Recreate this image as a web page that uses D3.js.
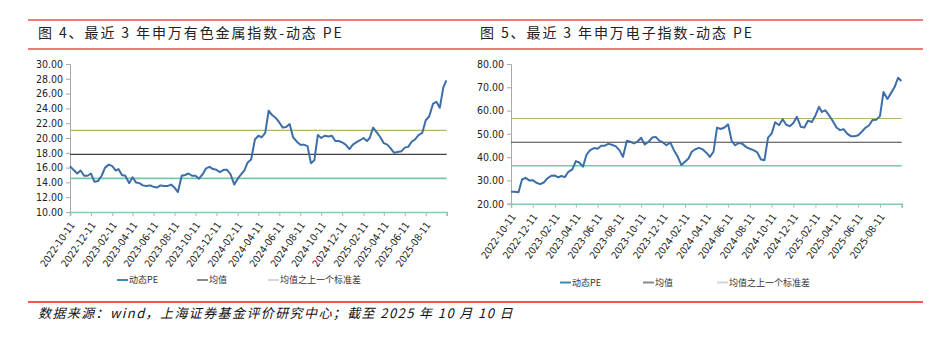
<!DOCTYPE html>
<html>
<head>
<meta charset="utf-8">
<script src="https://cdn.jsdelivr.net/npm/d3@7"></script>
<style>
  body { margin: 0; background: #fff; }
  svg { display: block; }
</style>
</head>
<body>
<div class="page"></div>
<script>

// sample dates (about every 10 days), shared by both panels
var dates = ("2022-10-11 2022-10-21 2022-11-01 2022-11-11 2022-11-21 2022-12-01 2022-12-11 2022-12-21 2023-01-01 " +
  "2023-01-11 2023-01-21 2023-02-01 2023-02-11 2023-02-21 2023-03-01 2023-03-11 2023-03-21 2023-04-01 " +
  "2023-04-11 2023-04-21 2023-05-01 2023-05-11 2023-05-21 2023-06-01 2023-06-11 2023-06-21 2023-07-01 " +
  "2023-07-11 2023-07-21 2023-08-01 2023-08-11 2023-08-21 2023-09-01 2023-09-11 2023-09-21 2023-10-01 " +
  "2023-10-11 2023-10-21 2023-11-01 2023-11-11 2023-11-21 2023-12-01 2023-12-11 2023-12-21 2024-01-01 " +
  "2024-01-11 2024-01-21 2024-02-01 2024-02-11 2024-02-21 2024-03-01 2024-03-11 2024-03-21 2024-04-01 " +
  "2024-04-11 2024-04-21 2024-05-01 2024-05-11 2024-05-21 2024-06-01 2024-06-11 2024-06-21 2024-07-01 " +
  "2024-07-11 2024-07-21 2024-08-01 2024-08-11 2024-08-21 2024-09-01 2024-09-11 2024-09-21 2024-10-01 " +
  "2024-10-11 2024-10-21 2024-11-01 2024-11-11 2024-11-21 2024-12-01 2024-12-11 2024-12-21 2025-01-01 " +
  "2025-01-11 2025-01-21 2025-02-01 2025-02-11 2025-02-21 2025-03-01 2025-03-11 2025-03-21 2025-04-01 " +
  "2025-04-11 2025-04-21 2025-05-01 2025-05-11 2025-05-21 2025-06-01 2025-06-11 2025-06-21 2025-07-01 " +
  "2025-07-11 2025-07-21 2025-08-01 2025-08-11 2025-08-21 2025-09-01 2025-09-11 2025-09-21 2025-10-01 " +
  "2025-10-10").split(" ");

var tickLabels = ["2022-10-11", "2022-12-11", "2023-02-11", "2023-04-11", "2023-06-11", "2023-08-11",
  "2023-10-11", "2023-12-11", "2024-02-11", "2024-04-11", "2024-06-11", "2024-08-11",
  "2024-10-11", "2024-12-11", "2025-02-11", "2025-04-11", "2025-06-11", "2025-08-11"];
var axisEnd = "2025-10-11";

// 申万有色金属 动态PE
var metalsPE = [16.2, 15.7, 15.2, 15.6, 14.9, 14.9, 15.2, 14.1, 14.2, 14.9,
  16.0, 16.4, 16.2, 15.6, 15.8, 15.0, 14.9, 13.9, 14.7, 14.0,
  13.9, 13.6, 13.5, 13.6, 13.4, 13.3, 13.6, 13.5, 13.5, 13.7,
  13.3, 12.7, 14.9, 15.0, 15.2, 14.9, 14.9, 14.5, 15.1, 15.9,
  16.1, 15.8, 15.7, 15.4, 15.7, 15.7, 15.1, 13.7, 14.5, 15.1,
  15.6, 16.7, 17.1, 19.8, 20.3, 20.1, 20.7, 23.7, 23.1, 22.7,
  22.1, 21.4, 21.5, 21.9, 20.1, 19.5, 19.1, 19.1, 18.9, 16.6,
  17.0, 20.4, 20.0, 20.3, 20.2, 20.3, 19.6, 19.6, 19.4, 19.1,
  18.5, 19.1, 19.4, 19.7, 20.0, 19.6, 20.0, 21.4, 20.8, 20.1,
  19.3, 19.1, 18.6, 18.0, 18.1, 18.2, 18.7, 18.8, 19.5, 19.8,
  20.4, 20.7, 22.4, 22.9, 24.6, 24.9, 24.1, 26.8, 27.8];
// mean, mean + 1 sd, mean - 1 sd
var metalsBands = [17.8, 21.04, 14.55];
var metalsTicks = [10, 12, 14, 16, 18, 20, 22, 24, 26, 28, 30];

// 申万电子 动态PE
var electronicsPE = [25.1, 25.1, 24.9, 30.4, 31.1, 30.0, 30.1, 29.0, 28.4, 29.1,
  30.9, 32.0, 32.1, 31.3, 31.9, 31.4, 33.7, 34.7, 38.3, 37.6,
  35.9, 41.1, 43.0, 43.9, 43.6, 44.9, 44.9, 45.7, 45.3, 44.6,
  43.0, 40.1, 47.0, 46.6, 45.9, 46.7, 48.3, 45.4, 46.6, 48.4,
  48.7, 47.1, 46.3, 45.1, 46.3, 43.0, 40.4, 36.6, 38.0, 39.4,
  42.3, 43.4, 44.0, 43.3, 41.9, 40.1, 42.3, 52.7, 52.1, 52.7,
  54.1, 47.0, 45.1, 46.1, 45.7, 44.3, 43.6, 43.0, 42.0, 39.0,
  38.7, 48.4, 50.1, 55.0, 53.7, 56.3, 53.9, 53.3, 54.7, 57.3,
  53.0, 52.7, 55.6, 55.1, 57.9, 61.6, 59.4, 60.1, 58.0, 55.4,
  52.7, 51.6, 52.0, 50.1, 49.0, 49.0, 49.4, 50.9, 52.6, 53.6,
  55.9, 56.1, 57.6, 68.0, 65.0, 67.5, 70.1, 74.1, 72.7];
var electronicsBands = [46.4, 56.6, 36.3];
var electronicsTicks = [20, 30, 40, 50, 60, 70, 80];

var legendNames = ["动态PE", "均值", "均值之上一个标准差"];

var parseDate = d3.timeParse("%Y-%m-%d");
var cjk = "'Noto Sans CJK SC', 'Noto Sans', sans-serif";
var narrow = "'Liberation Sans Narrow', 'Arial Narrow', 'DejaVu Sans Condensed', sans-serif";

var svg = d3.select(".page")
  .append("svg")
  .attr("width", 944)
  .attr("height", 361)
  .style("background-color", "white");

// title rules
svg.append("line").attr("x1", 28).attr("x2", 923).attr("y1", 20).attr("y2", 20)
  .attr("stroke", "#f27a7a").attr("stroke-width", 2);
svg.append("line").attr("x1", 28).attr("x2", 923).attr("y1", 49).attr("y2", 49)
  .attr("stroke", "#f27a7a").attr("stroke-width", 2);
svg.append("line").attr("x1", 28).attr("x2", 923).attr("y1", 302).attr("y2", 302)
  .attr("stroke", "#ff1a1a").attr("stroke-width", 1.5);

svg.append("text")
  .attr("x", 38).attr("y", 313).attr("dy", "0.35em")
  .style("font-family", cjk).style("font-size", "13px").style("font-style", "italic")
  .style("letter-spacing", "1.4px").style("fill", "#111")
  .text("数据来源：wind，上海证券基金评价研究中心；截至 2025 年 10 月 10 日");

function drawPanel(cfg) {
  var x = d3.scaleTime()
    .domain([parseDate(tickLabels[0]), parseDate(axisEnd)])
    .range([cfg.left, cfg.right]);

  var y = d3.scaleLinear()
    .domain(d3.extent(cfg.ticks))
    .range([cfg.bottom, cfg.top]);

  var g = svg.append("g").attr("class", "panel");

  g.append("text")
    .attr("x", cfg.titleX).attr("y", 33).attr("dy", "0.35em")
    .style("font-family", cjk).style("font-size", "14px")
    .style("letter-spacing", "1.9px").style("fill", "#222")
    .text(cfg.title);

  // y axis
  g.append("g")
    .attr("transform", "translate(" + cfg.left + ",0)")
    .call(d3.axisLeft(y).tickValues(cfg.ticks).tickFormat(d3.format(".2f")).tickSize(4).tickPadding(3))
    .call(function (a) {
      a.select(".domain").attr("stroke", "#a8a8a8");
      a.selectAll(".tick line").attr("stroke", "#a8a8a8");
      a.selectAll("text").style("font-family", narrow).style("font-size", "10.5px").style("fill", "#222");
    });

  // band lines: mean, upper, lower
  var bandColors = ["#404040", "#a9b86c", "#74c9a9"];
  g.selectAll(".band")
    .data(cfg.bands)
    .join("line")
    .attr("class", "band")
    .attr("x1", cfg.left).attr("x2", cfg.right)
    .attr("y1", function (d) { return y(d); })
    .attr("y2", function (d) { return y(d); })
    .attr("stroke", function (d, i) { return bandColors[i]; })
    .attr("stroke-width", function (d, i) { return i == 2 ? 1.6 : 1.2; });

  // x axis
  var tickDates = tickLabels.map(parseDate).concat([parseDate(axisEnd)]);
  g.append("g")
    .attr("transform", "translate(0," + cfg.bottom + ")")
    .call(d3.axisBottom(x).tickValues(tickDates).tickSize(4)
      .tickFormat(function (d, i) { return i < tickLabels.length ? tickLabels[i] : ""; }))
    .call(function (a) {
      a.select(".domain").attr("stroke", "#7fcdb2").attr("stroke-width", 1.6);
      a.selectAll(".tick line").attr("stroke", "#8cc8b4");
      a.selectAll("text")
        .attr("x", 0).attr("y", 0).attr("dy", "0.35em")
        .attr("text-anchor", "end")
        .attr("transform", "translate(2,11) rotate(-55)")
        .style("font-family", narrow).style("font-size", "10px").style("fill", "#222");
    });

  var line = d3.line()
    .x(function (d, i) { return x(parseDate(dates[i])); })
    .y(function (d) { return y(d); });

  g.append("path")
    .datum(cfg.values)
    .attr("fill", "none")
    .attr("stroke", "#3d6ea8")
    .attr("stroke-width", 2)
    .attr("stroke-linejoin", "round")
    .attr("d", line);

  // legend
  var legendColors = ["#3a8ab0", "#8a8a8a", "#d0d5dd"];
  var item = g.selectAll(".legend")
    .data(legendNames)
    .join("g")
    .attr("class", "legend")
    .attr("transform", function (d, i) { return "translate(" + cfg.legendX[i] + "," + cfg.legendY + ")"; });
  item.append("line")
    .attr("x1", 0).attr("x2", 11)
    .attr("stroke", function (d, i) { return legendColors[i]; })
    .attr("stroke-width", 2);
  item.append("text")
    .attr("x", 12).attr("dy", "0.35em")
    .style("font-family", cjk).style("font-size", "9px").style("fill", "#333")
    .text(function (d) { return d; });
}

drawPanel({
  title: "图 4、最近 3 年申万有色金属指数-动态 PE",
  titleX: 38,
  left: 70, right: 446.7, top: 64, bottom: 212,
  ticks: metalsTicks,
  bands: metalsBands,
  values: metalsPE,
  legendX: [117, 197, 268],
  legendY: 280
});

drawPanel({
  title: "图 5、最近 3 年申万电子指数-动态 PE",
  titleX: 480,
  left: 511, right: 901.7, top: 64, bottom: 203.7,
  ticks: electronicsTicks,
  bands: electronicsBands,
  values: electronicsPE,
  legendX: [560, 643, 717],
  legendY: 282.5
});

</script>
</body>
</html>
